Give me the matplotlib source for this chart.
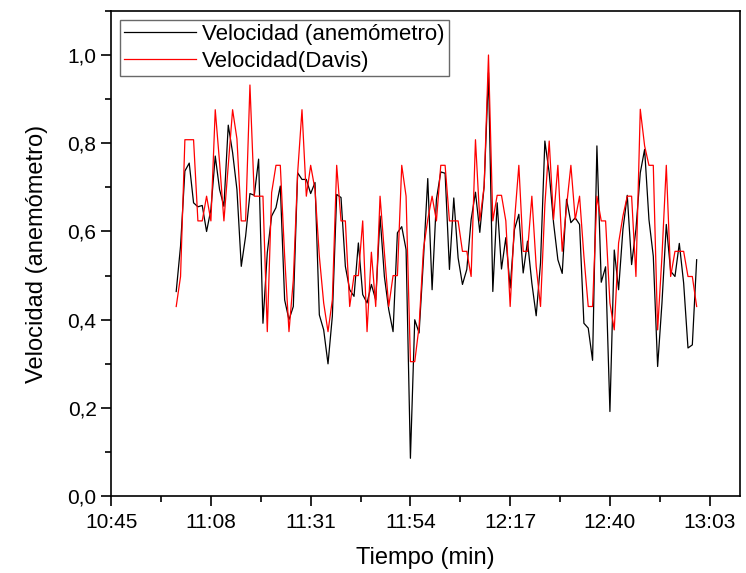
import numpy as np
import pandas as pd
import matplotlib
matplotlib.use("Agg")
import matplotlib.pyplot as plt
from matplotlib.ticker import MultipleLocator, FuncFormatter

plt.rcParams["font.family"] = ["Liberation Sans", "DejaVu Sans"]

# una muestra por minuto, de 11:00 a 13:00
tiempo = pd.date_range("2000-01-01 11:00", periods=121, freq="min")

vel_anemometro = [
    0.464, 0.567, 0.737, 0.755, 0.665, 0.656, 0.659, 0.600, 0.650, 0.771,
    0.695, 0.657, 0.841, 0.779, 0.695, 0.521, 0.589, 0.686, 0.682, 0.764,
    0.392, 0.552, 0.635, 0.654, 0.703, 0.445, 0.400, 0.430, 0.733, 0.718,
    0.718, 0.686, 0.711, 0.411, 0.377, 0.300, 0.408, 0.684, 0.677, 0.521,
    0.468, 0.453, 0.574, 0.457, 0.438, 0.480, 0.445, 0.635, 0.498, 0.423,
    0.373, 0.597, 0.611, 0.559, 0.086, 0.400, 0.370, 0.536, 0.720, 0.468,
    0.673, 0.735, 0.732, 0.514, 0.676, 0.540, 0.480, 0.514, 0.627, 0.689,
    0.598, 0.703, 0.960, 0.464, 0.665, 0.515, 0.586, 0.472, 0.605, 0.639,
    0.506, 0.578, 0.483, 0.409, 0.529, 0.805, 0.733, 0.620, 0.536, 0.505,
    0.673, 0.620, 0.631, 0.616, 0.392, 0.381, 0.308, 0.794, 0.485, 0.520,
    0.192, 0.558, 0.468, 0.605, 0.682, 0.525, 0.605, 0.733, 0.786, 0.627,
    0.544, 0.294, 0.438, 0.616, 0.510, 0.498, 0.573, 0.483, 0.336, 0.343,
    0.536,
]

vel_davis = [
    0.430, 0.498, 0.808, 0.808, 0.808, 0.624, 0.624, 0.680, 0.624, 0.876,
    0.756, 0.624, 0.750, 0.876, 0.810, 0.624, 0.624, 0.932, 0.680, 0.680,
    0.680, 0.373, 0.688, 0.750, 0.750, 0.544, 0.373, 0.490, 0.733, 0.876,
    0.680, 0.750, 0.695, 0.544, 0.438, 0.373, 0.445, 0.750, 0.624, 0.624,
    0.430, 0.500, 0.500, 0.624, 0.373, 0.553, 0.430, 0.680, 0.552, 0.430,
    0.500, 0.500, 0.750, 0.680, 0.305, 0.305, 0.385, 0.559, 0.627, 0.680,
    0.624, 0.750, 0.750, 0.624, 0.624, 0.624, 0.555, 0.555, 0.498, 0.808,
    0.624, 0.703, 1.000, 0.624, 0.682, 0.682, 0.624, 0.430, 0.624, 0.750,
    0.555, 0.555, 0.680, 0.521, 0.430, 0.660, 0.805, 0.627, 0.750, 0.555,
    0.657, 0.750, 0.627, 0.680, 0.544, 0.430, 0.430, 0.680, 0.624, 0.624,
    0.438, 0.377, 0.574, 0.635, 0.680, 0.680, 0.498, 0.877, 0.794, 0.750,
    0.750, 0.377, 0.544, 0.750, 0.498, 0.555, 0.555, 0.555, 0.498, 0.498,
    0.430,
]

# minutos desde medianoche para el eje x
x_min = tiempo.hour * 60 + tiempo.minute

fig = plt.figure(figsize=(7.46, 5.73), dpi=100)
ax = fig.add_axes([0.149, 0.134, 0.843, 0.847])

ax.plot(x_min, vel_anemometro, color="black", linewidth=0.9,
        label="Velocidad (anemómetro)")
ax.plot(x_min, vel_davis, color="red", linewidth=0.9,
        label="Velocidad(Davis)")

ax.set_xlim(645, 790)
ax.set_ylim(0, 1.1)

ax.xaxis.set_major_locator(MultipleLocator(23, offset=645 % 23))
ax.xaxis.set_minor_locator(MultipleLocator(11.5, offset=645 % 11.5))
ax.xaxis.set_major_formatter(
    FuncFormatter(lambda v, p: "%d:%02d" % (int(round(v)) // 60, int(round(v)) % 60)))
ax.yaxis.set_major_locator(MultipleLocator(0.2))
ax.yaxis.set_minor_locator(MultipleLocator(0.1))
ax.yaxis.set_major_formatter(FuncFormatter(lambda v, p: ("%.1f" % v).replace(".", ",")))

ax.tick_params(which="major", direction="out", length=7, width=1.2,
               labelsize=15, top=False, right=False)
ax.tick_params(axis="x", which="major", pad=5)
ax.tick_params(which="minor", direction="out", length=4, width=1.2,
               top=False, right=False)
for s in ax.spines.values():
    s.set_linewidth(1.2)

ax.set_xlabel("Tiempo (min)", fontsize=17, labelpad=11)
ax.set_ylabel("Velocidad (anemómetro)", fontsize=17, labelpad=14)

leg = ax.legend(loc="upper left", fontsize=16, frameon=True, fancybox=False,
                borderpad=0.2, handlelength=3.2, handletextpad=0.3,
                labelspacing=0.25, borderaxespad=0.4)
leg.get_frame().set_edgecolor("#444444")
leg.get_frame().set_linewidth(1.0)

fig.savefig("out.png", dpi=100)
